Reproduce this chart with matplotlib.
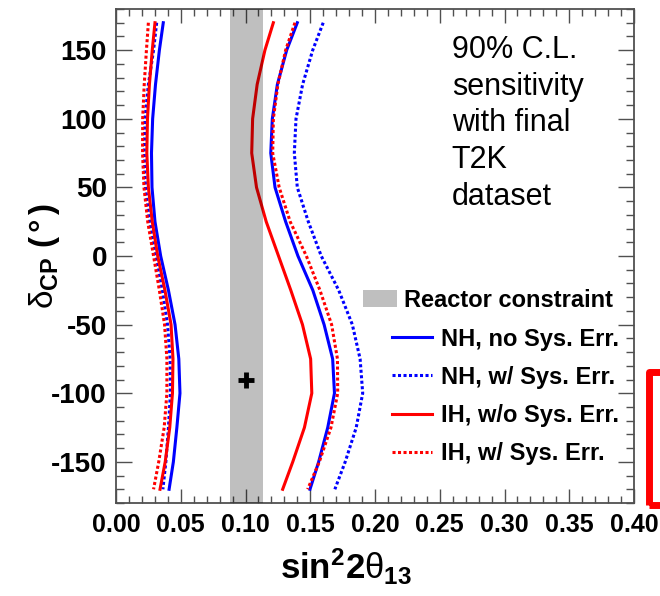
import matplotlib.pyplot as plt
from matplotlib.lines import Line2D
from matplotlib.patches import Patch, Rectangle

plt.rcParams['font.family'] = ['Liberation Sans', 'DejaVu Sans']
plt.rcParams['mathtext.fontset'] = 'custom'
plt.rcParams['mathtext.rm'] = 'Liberation Sans'
plt.rcParams['mathtext.it'] = 'Liberation Sans'
plt.rcParams['mathtext.bf'] = 'Liberation Sans:bold'
plt.rcParams['axes.unicode_minus'] = False

# delta_CP grid (degrees)
DELTA = [170, 150, 125, 100, 75, 50, 25, 0, -25, -50, -75, -100, -125, -150, -170]

# 90% C.L. contours: low and high sin^2 2theta13 edges
NH_NOSYS_LO = [0.0365, 0.0335, 0.0305, 0.0283, 0.0274, 0.0278, 0.0301, 0.0345,
               0.0405, 0.0456, 0.0485, 0.0494, 0.0470, 0.0443, 0.0410]
NH_NOSYS_HI = [0.1400, 0.1318, 0.1246, 0.1207, 0.1195, 0.1228, 0.1310, 0.1405,
               0.1520, 0.1607, 0.1673, 0.1687, 0.1635, 0.1565, 0.1498]
NH_SYS_LO = [0.0314, 0.0290, 0.0250, 0.0224, 0.0218, 0.0228, 0.0260, 0.0310,
             0.0358, 0.0398, 0.0418, 0.0420, 0.0405, 0.0385, 0.0362]
NH_SYS_HI = [0.1600, 0.1519, 0.1441, 0.1390, 0.1377, 0.1400, 0.1485, 0.1585,
             0.1720, 0.1825, 0.1885, 0.1905, 0.1855, 0.1770, 0.1690]
IH_NOSYS_LO = [0.0301, 0.0280, 0.0258, 0.0243, 0.0238, 0.0250, 0.0280, 0.0322,
               0.0378, 0.0425, 0.0440, 0.0436, 0.0415, 0.0380, 0.0340]
IH_NOSYS_HI = [0.1215, 0.1150, 0.1090, 0.1055, 0.1048, 0.1085, 0.1160, 0.1255,
               0.1350, 0.1440, 0.1503, 0.1512, 0.1455, 0.1365, 0.1287]
IH_SYS_LO = [0.0250, 0.0235, 0.0218, 0.0206, 0.0205, 0.0216, 0.0245, 0.0290,
             0.0335, 0.0375, 0.0393, 0.0393, 0.0372, 0.0330, 0.0290]
IH_SYS_HI = [0.1382, 0.1310, 0.1250, 0.1215, 0.1210, 0.1260, 0.1345, 0.1470,
             0.1575, 0.1665, 0.1710, 0.1712, 0.1660, 0.1570, 0.1480]

REACTOR_BAND = (0.088, 0.1135)
TRUE_POINT = (0.1, -90)

LABELS = ["NH, no Sys. Err.", "NH, w/ Sys. Err.", "IH, w/o Sys. Err.", "IH, w/ Sys. Err."]
DOT = (0, (1.0, 0.8))
LW = 2.2

fig = plt.figure(figsize=(6.6, 5.96), dpi=100)
ax = fig.add_axes([116/660, 93/596, 518/660, 494/596])

curves = [(NH_NOSYS_LO, NH_NOSYS_HI, 'blue', '-'),
          (NH_SYS_LO, NH_SYS_HI, 'blue', DOT),
          (IH_NOSYS_LO, IH_NOSYS_HI, 'red', '-'),
          (IH_SYS_LO, IH_SYS_HI, 'red', DOT)]
for lo, hi, c, ls in curves:
    ax.plot(lo, DELTA, color=c, ls=ls, lw=LW, zorder=2)
    ax.plot(hi, DELTA, color=c, ls=ls, lw=LW, zorder=2)

ax.axvspan(*REACTOR_BAND, color='black', alpha=0.25, lw=0, zorder=3)
ax.plot(*TRUE_POINT, marker='+', color='black', ms=11, mew=3.5, zorder=4)

ax.set_xlim(0, 0.4)
ax.set_ylim(-180, 180)
ax.set_xticks([0.0, 0.05, 0.10, 0.15, 0.20, 0.25, 0.30, 0.35, 0.40])
ax.set_xticklabels(['0.00', '0.05', '0.10', '0.15', '0.20', '0.25', '0.30', '0.35', '0.40'])
ax.set_yticks([-150, -100, -50, 0, 50, 100, 150])
ax.set_xticks([i * 0.01 for i in range(41)], minor=True)
ax.set_yticks(list(range(-180, 181, 10)), minor=True)

spine_c = '#505050'
for s in ax.spines.values():
    s.set_color(spine_c)
    s.set_linewidth(1.3)
ax.tick_params(which='both', direction='in', top=True, right=True, color=spine_c, width=1.0)
ax.tick_params(axis='x', which='major', length=10, pad=7, labelsize=18)
ax.tick_params(axis='x', which='minor', length=5)
ax.tick_params(axis='y', which='major', length=11.5, pad=6.5, labelsize=20)
ax.tick_params(axis='y', which='minor', length=6)
for lab in ax.get_xticklabels() + ax.get_yticklabels():
    lab.set_fontweight('bold')

ax.set_xlabel(r'$\mathbf{sin^{2}2}\theta_{\mathbf{13}}$', fontsize=25)
ax.xaxis.set_label_coords(0.444, -0.088)
ax.set_ylabel(r'$\delta_{\mathbf{CP}}\ \mathbf{(\,°\,)}$', fontsize=24)
ax.yaxis.set_label_coords(-0.105, 0.5)

ax.text(0.648, 0.948, "90% C.L.\nsensitivity\nwith final\nT2K\ndataset",
        transform=ax.transAxes, ha='left', va='top', fontsize=22, linespacing=1.3)

leg1 = ax.legend(handles=[Patch(facecolor='black', alpha=0.25, lw=0)],
                 labels=["Reactor constraint"], loc='upper left',
                 bbox_to_anchor=(0.477, 0.434), frameon=False, borderpad=0,
                 borderaxespad=0, handlelength=1.45, handleheight=0.72,
                 handletextpad=0.28, prop={'weight': 'bold', 'size': 17})
ax.add_artist(leg1)
handles = [Line2D([], [], color=c, ls=ls, lw=LW) for _, _, c, ls in curves]
ax.legend(handles=handles, labels=LABELS, loc='upper left',
          bbox_to_anchor=(0.533, 0.355), frameon=False, borderpad=0,
          borderaxespad=0, handlelength=1.7, handletextpad=0.38,
          labelspacing=0.64, prop={'weight': 'bold', 'size': 17})

# red bracket cut at right edge
fig.add_artist(Rectangle((648.5/660, 91.5/596), 0.1, 133/596, transform=fig.transFigure,
                         fill=False, ec='red', lw=5, joinstyle='round'))

plt.savefig('out.png', dpi=100)
